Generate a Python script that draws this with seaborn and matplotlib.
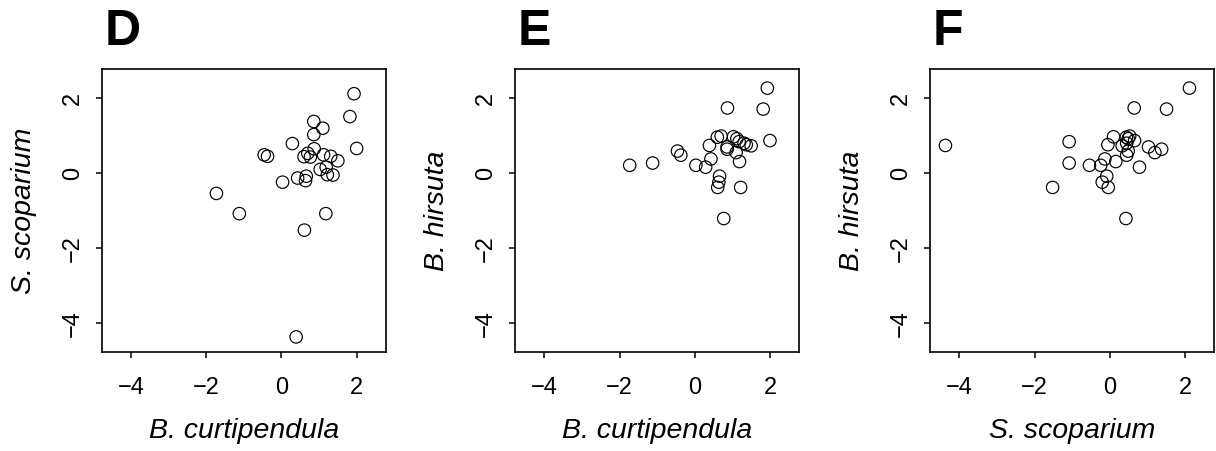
import matplotlib
matplotlib.use("Agg")
import matplotlib.pyplot as plt
import seaborn as sns
import pandas as pd

# Standardized abundances per plot (one value per sample)
b_curtipendula = [1.93, 1.82, 0.87, 0.39, 0.77, 2.00, -1.73, -1.12, 1.18, 0.61,
                  1.22, -0.46, -0.37, 0.29, 0.03, 0.86, 1.10, 0.86, 1.50, 0.43,
                  0.66, 0.64, 1.03, 1.19, 1.37, 0.60, 0.70, 1.12, 1.31]
s_scoparium = [2.12, 1.51, 0.65, -4.37, 0.43, 0.66, -0.54, -1.08, -1.08, -1.52,
               -0.04, 0.49, 0.45, 0.79, -0.24, 1.38, 1.20, 1.03, 0.33, -0.13,
               -0.08, -0.20, 0.10, 0.16, -0.05, 0.44, 0.53, 0.49, 0.45]
b_hirsuta = [2.27, 1.71, 1.74, 0.74, -1.21, 0.87, 0.21, 0.27, 0.84, -0.38,
             -0.38, 0.59, 0.48, 0.16, 0.21, 0.64, 0.55, 0.70, 0.73, 0.38,
             -0.08, -0.24, 0.97, 0.31, 0.76, 0.96, 0.99, 0.92, 0.80]

panel_letters = ["D", "E", "F"]
x_names = ["B. curtipendula", "B. curtipendula", "S. scoparium"]
y_names = ["S. scoparium", "B. hirsuta", "B. hirsuta"]
tick_values = [-4, -2, 0, 2]
tick_labels = ["\u22124", "\u22122", "0", "2"]

df = pd.DataFrame({"B. curtipendula": b_curtipendula,
                   "S. scoparium": s_scoparium,
                   "B. hirsuta": b_hirsuta})

sns.set_style("white")
plt.rcParams["font.family"] = ["Liberation Sans", "DejaVu Sans"]
plt.rcParams["text.color"] = "black"
plt.rcParams["axes.labelcolor"] = "black"

W, H = 1216, 451
fig = plt.figure(figsize=(W / 100, H / 100), dpi=100)

lefts = [101.7, 515.0, 930.0]
ax_w = 284.3
ax_top, ax_bot = 69.0, 352.3

lo, hi = -4.5, 2.5
ext = 0.04 * (hi - lo)

for i in range(3):
    ax = fig.add_axes([lefts[i] / W, (H - ax_bot) / H, ax_w / W, (ax_bot - ax_top) / H])
    sns.scatterplot(data=df, x=x_names[i], y=y_names[i], ax=ax, s=80,
                    marker="o", linewidth=0.85, legend=False)
    coll = ax.collections[-1]
    coll.set_facecolor("none")
    coll.set_edgecolor("black")
    ax.set_xlim(lo - ext, hi + ext)
    ax.set_ylim(lo - ext, hi + ext)
    ax.set_xticks(tick_values)
    ax.set_xticklabels(tick_labels)
    ax.set_yticks(tick_values)
    ax.set_yticklabels(tick_labels, rotation=90, va="center")
    ax.tick_params(axis="both", which="major", length=4.5, width=1.1,
                   labelsize=17, color="black", labelcolor="black",
                   direction="out", bottom=True, left=True)
    ax.tick_params(axis="x", pad=13)
    ax.tick_params(axis="y", pad=8.5)
    for sp in ax.spines.values():
        sp.set_visible(True)
        sp.set_color("black")
        sp.set_linewidth(1.2)
    ax.set_xlabel(x_names[i], fontsize=20.5, style="italic", labelpad=14,
                  color="black")
    ax.set_ylabel(y_names[i], fontsize=20.5, style="italic", labelpad=18,
                  color="black")
    ax.grid(False)
    fig.text((lefts[i] + 3) / W, 1 - 45 / H, panel_letters[i], fontsize=36,
             fontweight="bold", ha="left", va="baseline", color="black")

fig.savefig("out.png", dpi=100, facecolor="white")
